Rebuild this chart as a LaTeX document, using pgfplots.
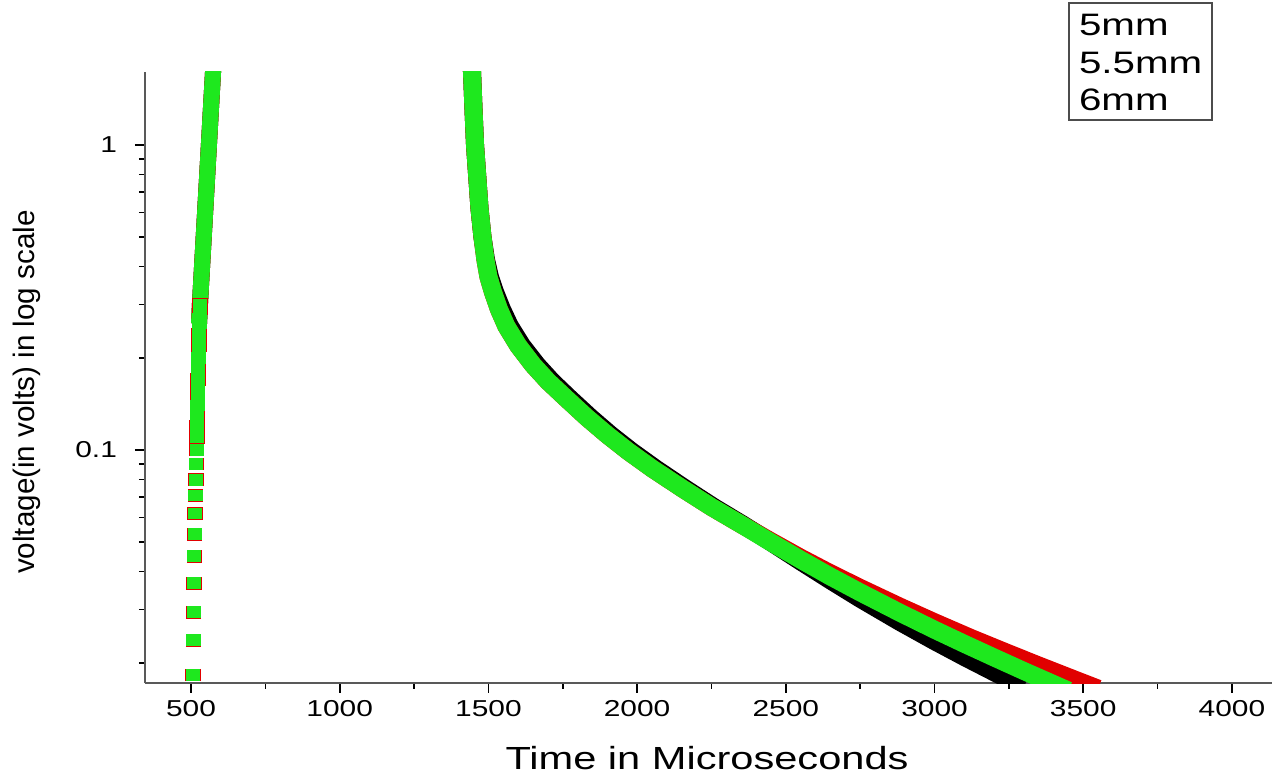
\documentclass[border=0pt]{standalone}
\usepackage{fontspec}
\setmainfont{Liberation Sans}
\newfontfamily\wfont[FakeStretch=1.3]{Liberation Sans}
\usepackage{pgfplots}
\pgfplotsset{compat=1.18}
\definecolor{cgreen}{RGB}{30,232,30}
\definecolor{cred}{RGB}{225,0,0}
\begin{document}
\begin{tikzpicture}
\useasboundingbox (-72.5pt,-48pt) rectangle (566pt,341.5pt);
\begin{axis}[
 at={(0,0)}, anchor=south west,
 scale only axis, width=563.5pt, height=305.5pt,
 ymode=log, xmin=345.3, xmax=4134.8, ymin=0.01722, ymax=1.7353,
 axis lines*=left,
 axis line style={black!65, line width=1.4pt},
 xtick={500,1000,1500,2000,2500,3000,3500,4000},
 xticklabels={500,1000,1500,2000,2500,3000,3500,4000},
 minor xtick={750,1250,1750,2250,2750,3250,3750},
 ytick={0.1,1}, yticklabels={0.1,1},
 minor ytick={0.02,0.03,0.04,0.05,0.06,0.07,0.08,0.09,0.2,0.3,0.4,0.5,0.6,0.7,0.8,0.9},
 tick align=outside, major tick length=5pt, minor tick length=3pt,
 every tick/.style={black, line width=0.8pt},
 ticklabel style={font=\wfont\fontsize{11.5}{13}\selectfont},
 xticklabel shift=0pt, yticklabel shift=5.5pt,
 xlabel={Time in Microseconds},
 xlabel style={font=\wfont\fontsize{16}{18}\selectfont, at={(axis description cs:0.4987,-0.1227)}, anchor=center},
 ylabel={voltage(in volts) in log scale},
 ylabel style={font=\fontsize{14.8}{17}\selectfont, at={(axis description cs:-0.1047,0.476)}, anchor=center},
 legend style={at={(axis description cs:0.819,1.1146)}, anchor=north west, draw=black!70, line width=1pt, fill=white,
   font=\wfont\fontsize{15.5}{18}\selectfont, inner xsep=5pt, inner ysep=4.5pt, row sep=6.75pt,
   nodes={inner sep=0pt, text height=12pt, text depth=0pt}},
 legend image code/.code={},
 legend cell align=left,
]
% ---- 5mm (black)
\addplot[black, line width=9pt, line join=round] coordinates {
(1440,2.0)(1445,1.73)(1450,1.3)(1455,1.0)(1462,0.8)(1470,0.62)(1480,0.5)(1492,0.42)(1505,0.37)(1522,0.33)(1545,0.29)(1572,0.255)(1613,0.22)(1664,0.19)(1714,0.168)(1773,0.148)(1843,0.128)(1912,0.112)(1982,0.099)(2062,0.087)(2160,0.075)(2258,0.065)(2355,0.057)(2445,0.0502)(2550,0.04309)(2650,0.03737)(2750,0.03254)(2884,0.02729)(3000,0.02362)(3100,0.02096)(3200,0.01868)(3300,0.01669)};
\addlegendentry{5mm}
\addplot[black, line width=8pt, line join=round, forget plot] coordinates {
(527,0.26)(530,0.3)(537.2,0.4)(542.8,0.5)(551.3,0.7)(560.2,1.0)(567.7,1.35)(574,1.73)(577.6,2.0)};
\addplot[only marks, mark=square*, mark size=3.6pt, mark options={yscale=0.82, black, rounded corners=1.4pt}, forget plot] coordinates {
(507,0.0183)(508,0.0238)(509,0.0294)(510,0.0366)(511,0.0449)(512,0.053)(513.5,0.062)(515,0.071)(516,0.080)(517.5,0.090)(519,0.100)(519.5,0.110)(520,0.120)(521,0.130)(521.5,0.140)(522,0.150)(522.5,0.160)(523,0.170)(524,0.180)(524.5,0.190)(525,0.200)(525.5,0.21)(526,0.22)(526.5,0.23)(527,0.24)(527.5,0.25)(528,0.26)(528.5,0.27)(529,0.28)(529.5,0.29)(530,0.30)};
% ---- 5.5mm (red)
\addplot[cred, line width=9pt, line join=round] coordinates {
(1440,2.0)(1445,1.73)(1450,1.3)(1455,1.0)(1462,0.8)(1470,0.62)(1480,0.5)(1490,0.42)(1500,0.37)(1515,0.33)(1535,0.29)(1560,0.255)(1600,0.22)(1650,0.19)(1700,0.168)(1760,0.148)(1830,0.128)(1900,0.112)(1970,0.099)(2050,0.087)(2150,0.075)(2250,0.065)(2350,0.057)(2450,0.0502)(2550,0.04432)(2650,0.03943)(2750,0.03530)(2884,0.03063)(3000,0.02724)(3123,0.02417)(3250,0.02151)(3350,0.01966)(3483,0.01749)(3550,0.01650)};
\addlegendentry{5.5mm}
\addplot[cred, line width=8pt, line join=round, forget plot] coordinates {
(527,0.26)(530,0.3)(537.2,0.4)(542.8,0.5)(551.3,0.7)(560.2,1.0)(567.7,1.35)(574,1.73)(577.6,2.0)};
\addplot[only marks, mark=square*, mark size=3.6pt, mark options={yscale=0.82, cred, rounded corners=1.4pt}, forget plot] coordinates {
(507,0.0183)(508,0.0238)(509,0.0294)(510,0.0366)(511,0.0449)(512,0.053)(513.5,0.062)(515,0.071)(516,0.080)(517.5,0.090)(519,0.100)(519.5,0.110)(520,0.120)(521,0.130)(521.5,0.140)(522,0.150)(522.5,0.160)(523,0.170)(524,0.180)(524.5,0.190)(525,0.200)(525.5,0.21)(526,0.22)(526.5,0.23)(527,0.24)(527.5,0.25)(528,0.26)(528.5,0.27)(529,0.28)(529.5,0.29)(530,0.30)};
% ---- 6mm (green)
\addplot[cgreen, line width=9pt, line join=round] coordinates {
(1440,2.0)(1445,1.73)(1450,1.3)(1455,1.0)(1462,0.8)(1470,0.62)(1480,0.5)(1490,0.42)(1500,0.37)(1515,0.33)(1535,0.29)(1560,0.255)(1600,0.22)(1650,0.19)(1700,0.168)(1760,0.148)(1830,0.128)(1900,0.112)(1970,0.099)(2050,0.087)(2150,0.075)(2250,0.065)(2350,0.057)(2447,0.050)(2550,0.04367)(2650,0.03848)(2750,0.03414)(2884,0.02926)(3000,0.02574)(3100,0.02315)(3200,0.02088)(3300,0.01886)(3382,0.01739)(3450,0.01626)};
\addlegendentry{6mm}
\addplot[cgreen, line width=8pt, line join=round, forget plot] coordinates {
(527,0.26)(530,0.3)(537.2,0.4)(542.8,0.5)(551.3,0.7)(560.2,1.0)(567.7,1.35)(574,1.73)(577.6,2.0)};
\addplot[only marks, mark=square*, mark size=3.3pt, mark options={yscale=0.82, cgreen, rounded corners=1.4pt}, forget plot] coordinates {
(507,0.0183)(508,0.0238)(509,0.0294)(510,0.0366)(511,0.0449)(512,0.053)(513.5,0.062)(515,0.071)(516,0.080)(517.5,0.090)(519,0.100)(519.5,0.110)(520,0.120)(521,0.130)(521.5,0.140)(522,0.150)(522.5,0.160)(523,0.170)(524,0.180)(524.5,0.190)(525,0.200)(525.5,0.21)(526,0.22)(526.5,0.23)(527,0.24)(527.5,0.25)(528,0.26)(528.5,0.27)(529,0.28)(529.5,0.29)(530,0.30)};
\end{axis}
\end{tikzpicture}
\end{document}
